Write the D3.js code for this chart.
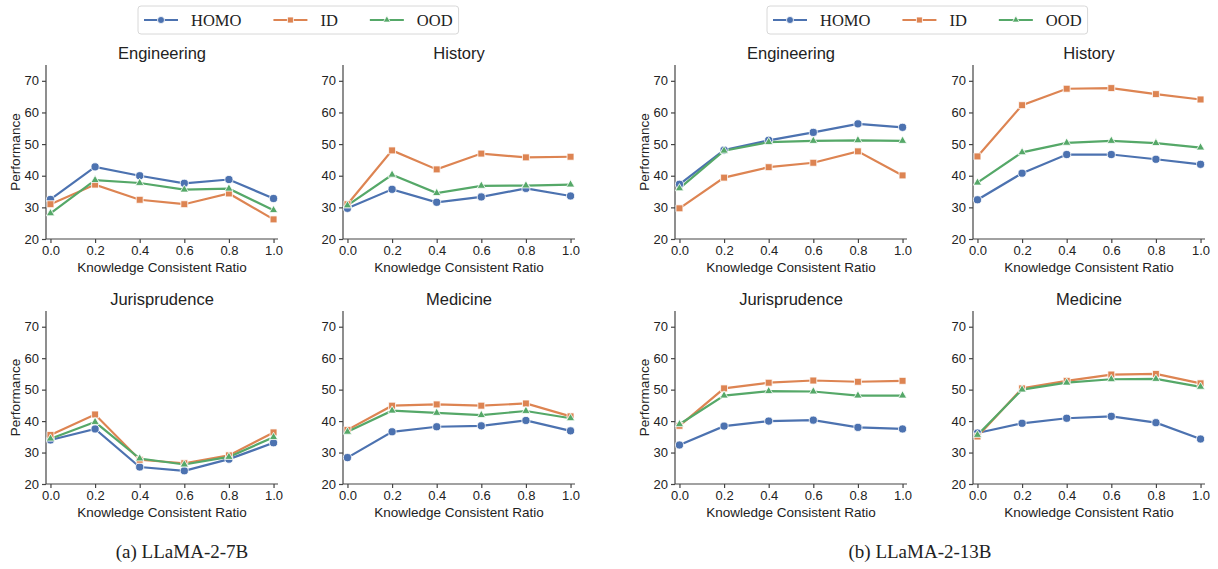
<!DOCTYPE html>
<meta charset="utf-8">
<style>
    body { margin:0; background:#fff; }
    svg text { fill:#222; }
</style>
<body>
<script src="https://d3js.org/d3.v7.min.js"></script>
<script>
var width = 1218, height = 569;

var ratios = [0.0, 0.2, 0.4, 0.6, 0.8, 1.0];
var subjects = ["Engineering", "History", "Jurisprudence", "Medicine"];
var seriesNames = ["HOMO", "ID", "OOD"];
var yTicks = [20, 30, 40, 50, 60, 70];
var xTicks = [0.0, 0.2, 0.4, 0.6, 0.8, 1.0];
var captions = ["(a) LLaMA-2-7B", "(b) LLaMA-2-13B"];

// LLaMA-2-7B, one row per subject
var homo7b = [
    [32.5, 42.8, 40.0, 37.6, 38.8, 32.8],
    [29.7, 35.7, 31.6, 33.3, 36.0, 33.6],
    [34.0, 37.5, 25.4, 24.2, 27.9, 33.1],
    [28.4, 36.6, 38.2, 38.5, 40.2, 36.9]
];
var id7b = [
    [31.0, 37.2, 32.4, 31.0, 34.4, 26.2],
    [31.0, 48.0, 42.0, 47.0, 45.8, 46.0],
    [35.6, 42.1, 27.7, 26.6, 29.1, 36.4],
    [37.2, 44.9, 45.3, 44.9, 45.6, 41.5]
];
var ood7b = [
    [28.1, 38.6, 37.7, 35.6, 35.9, 29.1],
    [30.6, 40.3, 34.5, 36.8, 36.9, 37.2],
    [34.4, 39.7, 28.1, 26.2, 28.6, 34.9],
    [36.6, 43.3, 42.6, 41.9, 43.2, 40.9]
];

// LLaMA-2-13B
var homo13b = [
    [37.3, 48.1, 51.2, 53.7, 56.4, 55.3],
    [32.4, 40.8, 46.7, 46.7, 45.2, 43.6],
    [32.4, 38.4, 40.0, 40.3, 38.0, 37.5],
    [36.2, 39.3, 40.9, 41.5, 39.5, 34.3]
];
var id13b = [
    [29.7, 39.4, 42.7, 44.1, 47.7, 40.1],
    [46.1, 62.3, 67.5, 67.7, 65.8, 64.1],
    [38.5, 50.4, 52.2, 52.9, 52.5, 52.8],
    [35.1, 50.4, 52.8, 54.8, 55.0, 52.0]
];
var ood13b = [
    [36.0, 47.9, 50.6, 51.0, 51.2, 51.0],
    [37.8, 47.4, 50.4, 51.0, 50.3, 48.9],
    [39.0, 48.1, 49.5, 49.4, 48.1, 48.1],
    [35.6, 50.0, 52.2, 53.3, 53.4, 50.9]
];

var models = [
    [homo7b, id7b, ood7b],
    [homo13b, id13b, ood13b]
];

var colors = ["#4c72b0", "#dd8452", "#55a868"];
var symbols = [d3.symbolCircle, d3.symbolSquare, d3.symbolTriangle];
var symSizes = [52, 48, 30];

var sans = "'Liberation Sans', Arial, sans-serif";
var serif = "'Liberation Serif', 'Times New Roman', serif";

var svg = d3.select("body").append("svg")
    .attr("width", width)
    .attr("height", height);

// panel layout
var colX = [[46, 343], [675, 973]];
var rowY = [[65, 239], [311, 484]];
var pw = 232;

var x = d3.scaleLinear().domain([-0.02, 1.02]).range([0, pw]);

models.forEach(function(model, m) {
    subjects.forEach(function(subj, s) {
        var r = Math.floor(s / 2), c = s % 2;
        var left = colX[m][c], top = rowY[r][0], bottom = rowY[r][1];
        var y = d3.scaleLinear().domain([20, 75]).range([bottom - top, 0]);

        var g = svg.append("g").attr("transform", "translate(" + left + "," + top + ")");

        var yAxis = g.append("g")
            .call(d3.axisLeft(y).tickValues(yTicks).tickSize(4).tickPadding(3));
        var xAxis = g.append("g")
            .attr("transform", "translate(0," + (bottom - top) + ")")
            .call(d3.axisBottom(x).tickValues(xTicks).tickFormat(d3.format(".1f")).tickSize(4).tickPadding(3));
        [yAxis, xAxis].forEach(function(a) {
            a.selectAll("path, line").attr("stroke", "#444").attr("stroke-width", 1.2);
            a.select(".domain").attr("d", a === yAxis ?
                "M0," + (bottom - top) + "V0" : "M0,0H" + pw);
            a.selectAll("text").attr("font-family", sans).attr("font-size", 13).attr("fill", "#222");
        });

        g.append("text")
            .attr("x", pw / 2).attr("y", -6)
            .attr("text-anchor", "middle")
            .attr("font-family", sans).attr("font-size", 16.5)
            .text(subj);

        g.append("text")
            .attr("x", pw / 2).attr("y", bottom - top + 33)
            .attr("text-anchor", "middle")
            .attr("font-family", sans).attr("font-size", 13.5)
            .text("Knowledge Consistent Ratio");

        if (c === 0) {
            g.append("text")
                .attr("transform", "translate(-26," + ((bottom - top) / 2) + ") rotate(-90)")
                .attr("text-anchor", "middle")
                .attr("font-family", sans).attr("font-size", 13.5)
                .text("Performance");
        }

        model.forEach(function(ser, k) {
            var vals = ser[s];
            var line = d3.line()
                .x(function(d, i) { return x(ratios[i]); })
                .y(function(d) { return y(d); });
            g.append("path")
                .datum(vals)
                .attr("d", line)
                .attr("fill", "none")
                .attr("stroke", colors[k])
                .attr("stroke-width", 2.2);
        });
        model.forEach(function(ser, k) {
            g.selectAll(null)
                .data(ser[s])
                .enter().append("path")
                .attr("transform", function(d, i) { return "translate(" + x(ratios[i]) + "," + y(d) + ")"; })
                .attr("d", d3.symbol().type(symbols[k]).size(symSizes[k]))
                .attr("fill", colors[k])
                .attr("stroke", "#fff")
                .attr("stroke-width", 0.8);
        });
    });
});

// legends
[[138, 6], [767, 6]].forEach(function(pos, m) {
    var lg = svg.append("g").attr("transform", "translate(" + pos[0] + "," + pos[1] + ")");
    var box = lg.append("rect")
        .attr("height", 28)
        .attr("rx", 3)
        .attr("fill", "#fff")
        .attr("stroke", "#d8d8d8");
    var ox = 6, mid = 14;
    seriesNames.forEach(function(name, k) {
        lg.append("line")
            .attr("x1", ox).attr("x2", ox + 34)
            .attr("y1", mid).attr("y2", mid)
            .attr("stroke", colors[k]).attr("stroke-width", 2.2);
        lg.append("path")
            .attr("transform", "translate(" + (ox + 17) + "," + mid + ")")
            .attr("d", d3.symbol().type(symbols[k]).size(symSizes[k] * 0.75))
            .attr("fill", colors[k])
            .attr("stroke", "#fff").attr("stroke-width", 0.8);
        var t = lg.append("text")
            .attr("x", ox + 47).attr("y", mid + 5.5)
            .attr("font-family", serif).attr("font-size", 16.5)
            .text(name);
        ox = ox + 47 + t.node().getComputedTextLength() + 32;
    });
    box.attr("width", ox - 32 + 6);
});

// captions
[182, 920].forEach(function(cx, m) {
    svg.append("text")
        .attr("x", cx).attr("y", 558)
        .attr("text-anchor", "middle")
        .attr("font-family", serif).attr("font-size", 19)
        .text(captions[m]);
});
</script>
</body>
